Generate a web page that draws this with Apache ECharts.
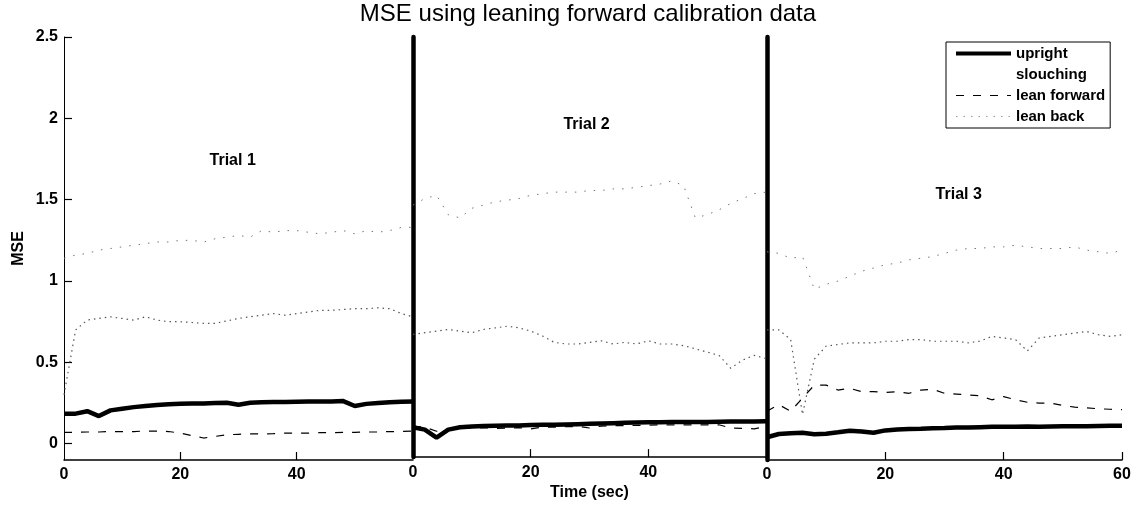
<!DOCTYPE html>
<html><head><meta charset="utf-8">
<script src="https://cdn.jsdelivr.net/npm/echarts@6/dist/echarts.min.js"></script>
<style>html,body{margin:0;padding:0;background:#fff}#c{width:1142px;height:506px}</style>
</head><body><div id="c"></div>
<script>
const titleText = 'MSE using leaning forward calibration data';
const seriesNames = ['upright', 'slouching', 'lean forward', 'lean back'];
const trialLabels = ['Trial 1', 'Trial 2', 'Trial 3'];
const trialLabelAt = [[29, 1.74], [29.5, 1.96], [32.4, 1.53]];
const yTicks = [0, 0.5, 1, 1.5, 2, 2.5];
const xTicks = [0, 20, 40, 60];
const time = [0,2,4,6,8,10,12,14,16,18,20,22,24,26,28,30,32,34,36,38,40,42,44,46,48,50,52,54,56,58,60];

// Trial 1
const uprightT1 = [0.185,0.185,0.2,0.17,0.205,0.215,0.225,0.232,0.238,0.242,0.245,0.247,0.248,0.25,0.252,0.24,0.252,0.255,0.256,0.257,0.258,0.259,0.26,0.26,0.262,0.232,0.245,0.25,0.255,0.258,0.26];
const slouchT1 = [1.14,1.16,1.17,1.19,1.2,1.21,1.22,1.23,1.24,1.24,1.25,1.25,1.24,1.26,1.27,1.28,1.27,1.31,1.3,1.31,1.31,1.3,1.29,1.3,1.31,1.29,1.31,1.3,1.31,1.33,1.33];
const forwardT1 = [0.07,0.07,0.072,0.072,0.075,0.075,0.075,0.078,0.078,0.075,0.065,0.05,0.035,0.045,0.055,0.058,0.06,0.06,0.062,0.065,0.065,0.065,0.068,0.068,0.07,0.07,0.072,0.072,0.075,0.075,0.078];
const backT1 = [0.3,0.7,0.76,0.77,0.78,0.77,0.76,0.78,0.76,0.75,0.75,0.745,0.74,0.74,0.755,0.77,0.78,0.79,0.8,0.79,0.8,0.81,0.82,0.82,0.825,0.83,0.83,0.835,0.83,0.8,0.78];
// Trial 2
const uprightT2 = [0.085,0.07,0.02,0.07,0.085,0.09,0.092,0.094,0.096,0.096,0.098,0.1,0.1,0.102,0.104,0.106,0.108,0.11,0.112,0.114,0.116,0.116,0.117,0.117,0.118,0.118,0.119,0.12,0.12,0.121,0.122];
const slouchT2 = [1.46,1.5,1.52,1.4,1.38,1.44,1.46,1.48,1.49,1.5,1.52,1.53,1.54,1.54,1.54,1.55,1.55,1.56,1.56,1.57,1.58,1.59,1.61,1.58,1.38,1.4,1.43,1.47,1.5,1.53,1.54];
const forwardT2 = [0.09,0.085,0.06,0.075,0.08,0.08,0.082,0.078,0.08,0.082,0.075,0.085,0.085,0.088,0.09,0.08,0.092,0.094,0.095,0.096,0.098,0.1,0.1,0.1,0.1,0.1,0.1,0.08,0.078,0.075,0.09];
const backT2 = [0.66,0.67,0.68,0.69,0.68,0.67,0.69,0.7,0.71,0.7,0.68,0.65,0.61,0.6,0.6,0.61,0.62,0.6,0.61,0.6,0.62,0.6,0.6,0.59,0.57,0.55,0.53,0.45,0.5,0.53,0.51];
// Trial 3
const uprightT3 = [0.04,0.06,0.065,0.068,0.058,0.062,0.07,0.08,0.075,0.068,0.082,0.088,0.09,0.092,0.095,0.097,0.1,0.1,0.102,0.104,0.105,0.105,0.106,0.104,0.106,0.107,0.108,0.108,0.109,0.11,0.11];
const slouchT3 = [1.18,1.17,1.14,1.15,0.95,0.98,1.0,1.03,1.06,1.08,1.1,1.11,1.13,1.14,1.15,1.17,1.19,1.2,1.2,1.21,1.21,1.22,1.21,1.2,1.2,1.2,1.21,1.19,1.18,1.17,1.19];
const forwardT3 = [0.2,0.24,0.2,0.28,0.36,0.36,0.33,0.34,0.32,0.32,0.315,0.32,0.31,0.33,0.335,0.31,0.305,0.3,0.295,0.27,0.29,0.27,0.255,0.25,0.25,0.235,0.225,0.22,0.215,0.212,0.21];
const backT3 = [0.7,0.7,0.64,0.18,0.52,0.6,0.61,0.62,0.62,0.62,0.63,0.63,0.64,0.64,0.63,0.63,0.63,0.62,0.63,0.66,0.65,0.64,0.57,0.65,0.66,0.67,0.68,0.69,0.67,0.66,0.67];

const panels = [
  [uprightT1, slouchT1, forwardT1, backT1],
  [uprightT2, slouchT2, forwardT2, backT2],
  [uprightT3, slouchT3, forwardT3, backT3]
];

const FONT = '"Liberation Sans", Arial, Helvetica, sans-serif';
const lineStyles = [
  {color: '#000', width: 4.5, type: 'solid'},
  {color: '#777', width: 1, type: [1.5, 8]},
  {color: '#000', width: 1.2, type: [8, 9]},
  {color: '#555', width: 1.2, type: [1.5, 4]}
];
const legendLineStyles = [
  {width: 4, color: '#000', type: 'solid'},
  {width: 1, color: '#fff', type: 'solid', opacity: 0},
  {width: 1.2, color: '#000', type: [8, 9]},
  {width: 1, color: '#999', type: [1.5, 6]}
];
const zs = [5, 2, 4, 3];

const gridBoxes = [
  {left: 64, top: 37, width: 349, height: 423},
  {left: 413, top: 37, width: 353, height: 423},
  {left: 767, top: 37, width: 355, height: 423}
];

const xAxes = gridBoxes.map((g, p) => ({
  type: 'value', gridIndex: p, min: 0, max: 60, interval: 20,
  splitLine: {show: false},
  axisLine: {show: true, onZero: false, lineStyle: {color: '#000', width: 1.5}},
  axisTick: {show: true, inside: true, length: 8, lineStyle: {color: '#000', width: 1.2},
             customValues: p === 2 ? [20, 40, 60] : [20, 40]},
  axisLabel: {show: true, margin: 7, color: '#000', fontFamily: FONT, fontWeight: 'bold', fontSize: 16,
              customValues: p === 2 ? xTicks : xTicks.slice(0, 3)},
  name: p === 1 ? 'Time (sec)' : '',
  nameLocation: 'middle', nameGap: 26,
  nameTextStyle: {color: '#000', fontFamily: FONT, fontWeight: 'bold', fontSize: 16}
}));

const yAxes = gridBoxes.map((g, p) => ({
  type: 'value', gridIndex: p, min: -0.1, max: 2.5,
  splitLine: {show: false},
  axisLine: {show: true, onZero: false, lineStyle: {color: '#000', width: p === 0 ? 1 : 4.5}},
  axisTick: {show: p === 0, inside: true, length: 8, lineStyle: {color: '#000', width: 1.2}, customValues: yTicks},
  axisLabel: {show: p === 0, margin: 6, color: '#000', fontFamily: FONT, fontWeight: 'bold', fontSize: 16,
              customValues: yTicks},
  name: p === 0 ? 'MSE' : '',
  nameLocation: 'middle', nameGap: 37,
  nameTextStyle: {color: '#000', fontFamily: FONT, fontWeight: 'bold', fontSize: 16}
}));

const series = [];
panels.forEach((vals, p) => {
  vals.forEach((arr, k) => {
    const s = {
      type: 'line', name: seriesNames[k], xAxisIndex: p, yAxisIndex: p,
      data: time.map((t, i) => [t, arr[i]]),
      symbol: 'none', showSymbol: false, smooth: false, z: zs[k],
      lineStyle: lineStyles[k], itemStyle: {color: lineStyles[k].color},
      emphasis: {disabled: true}
    };
    if (k === 0) {
      s.markPoint = {
        symbol: 'rect', symbolSize: 1, itemStyle: {color: 'rgba(0,0,0,0)'},
        label: {show: true, position: 'inside', formatter: '{b}', color: '#000',
                fontFamily: FONT, fontWeight: 'bold', fontSize: 16},
        data: [{name: trialLabels[p], coord: trialLabelAt[p]}]
      };
    }
    series.push(s);
  });
});

const chart = echarts.init(document.getElementById('c'), null, {renderer: 'canvas'});
chart.setOption({
  animation: false,
  backgroundColor: '#fff',
  title: {
    text: titleText, left: 588, top: 2, padding: 0, textAlign: 'center',
    textStyle: {color: '#000', fontFamily: FONT, fontWeight: 'normal', fontSize: 24}
  },
  legend: {
    data: seriesNames.map((n, k) => ({name: n, lineStyle: legendLineStyles[k]})),
    orient: 'vertical', left: 946, top: 42,
    itemWidth: 55, itemHeight: 14, itemGap: 6,
    padding: [4, 5, 4, 8], borderColor: '#000', borderWidth: 1, backgroundColor: '#fff',
    itemStyle: {opacity: 0},
    textStyle: {color: '#000', fontFamily: FONT, fontWeight: 'bold', fontSize: 15}
  },
  grid: gridBoxes,
  xAxis: xAxes,
  yAxis: yAxes,
  series: series
});
</script>
</body></html>
